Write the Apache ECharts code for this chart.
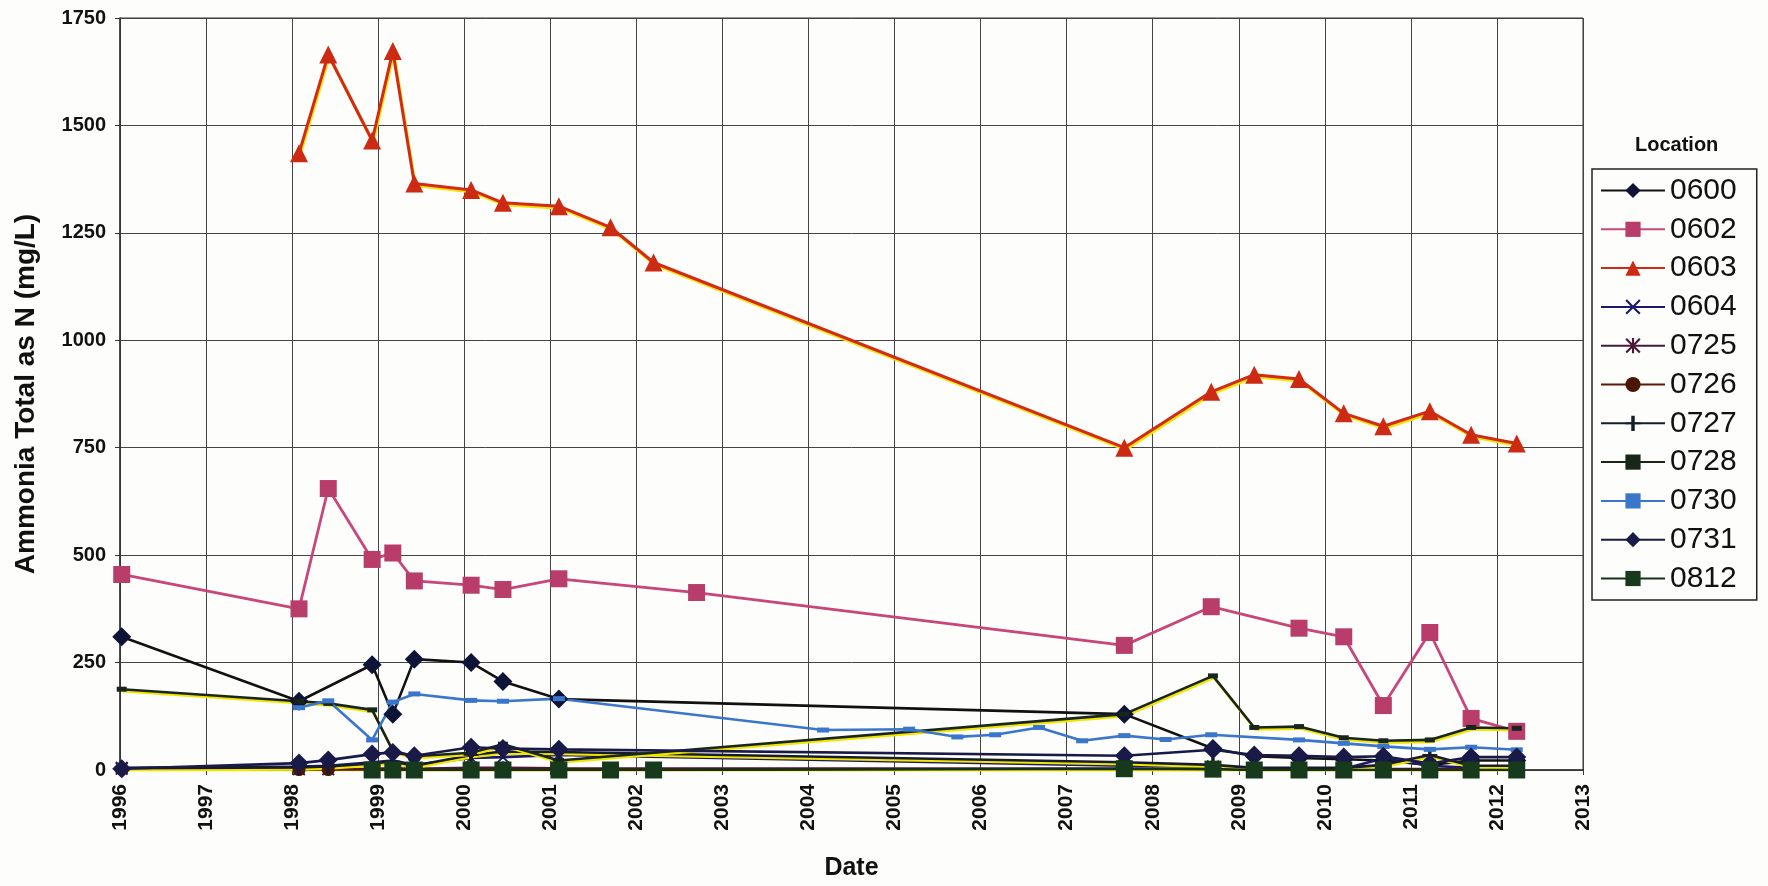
<!DOCTYPE html>
<html>
<head>
<meta charset="utf-8">
<script src="https://cdn.jsdelivr.net/npm/echarts@6/dist/echarts.min.js"></script>
<style>
html,body{margin:0;padding:0;background:#fdfdfb;}
#chart{width:1768px;height:886px;}
</style>
</head>
<body>
<div id="chart"></div>
<script>
// ---- data (dates as decimal years) ----
const yearTicks = [1996,1997,1998,1999,2000,2001,2002,2003,2004,2005,2006,2007,2008,2009,2010,2011,2012,2013];
const locations = ['0600','0602','0603','0604','0725','0726','0727','0728','0730','0731','0812'];

const tCommon = [1996.02,1998.08,1998.42,1998.93,1999.17,1999.42,2000.08,2000.45,2001.10,2007.67,2008.70,2009.18,2009.70,2010.22,2010.68,2011.22,2011.70,2012.23];

const t0600 = [1996.02,1998.08,1998.93,1999.17,1999.42,2000.08,2000.45,2001.10,2007.67,2008.70,2009.18,2009.70,2010.22,2010.68,2011.22,2011.70,2012.23];
const v0600 = [310,160,245,130,258,250,206,165,130,50,32,28,25,22,12,22,22];

const t0602 = [1996.02,1998.08,1998.42,1998.93,1999.17,1999.42,2000.08,2000.45,2001.10,2002.70,2007.67,2008.68,2009.70,2010.22,2010.68,2011.22,2011.70,2012.23];
const v0602 = [455,375,655,490,505,440,430,420,445,413,290,380,330,310,150,320,120,90];

const t0603 = [1998.08,1998.42,1998.93,1999.17,1999.42,2000.08,2000.45,2001.10,2001.70,2002.20,2007.67,2008.68,2009.18,2009.70,2010.22,2010.68,2011.22,2011.70,2012.23];
const v0603 = [1435,1665,1465,1673,1365,1350,1320,1312,1263,1181,750,880,920,910,830,800,835,780,760];

const v0604 = [5,8,10,18,22,12,28,30,35,10,8,3,3,3,27,10,5,5];
const v0725 = [3,2,2,3,4,3,5,5,4,3,2,2,2,2,2,2,2,2];
const v0726 = [2,1,1,1,1,1,1,1,1,2,1,1,1,1,1,1,1,1];
const v0727 = [4,6,8,15,20,10,35,43,42,18,12,5,5,5,12,35,10,10];

const v0728 = [188,160,155,140,45,32,40,60,22,130,219,99,101,75,68,70,99,97];

const t0730 = [1998.08,1998.42,1998.93,1999.17,1999.42,2000.08,2000.45,2001.10,2004.17,2005.17,2005.73,2006.17,2006.68,2007.18,2007.67,2008.15,2008.68,2009.70,2010.22,2010.68,2011.22,2011.70,2012.23];
const v0730 = [145,161,70,158,177,162,160,166,93,95,77,82,99,68,80,71,82,70,62,55,48,53,47];

const v0731 = [3,16,23,37,41,33,53,50,48,33,47,35,33,30,32,15,30,30];

const t0812 = [1998.93,1999.17,1999.42,2000.08,2000.45,2001.10,2001.70,2002.20,2007.67,2008.70,2009.18,2009.70,2010.22,2010.68,2011.22,2011.70,2012.23];
const v0812 = [0,0,0,0,0,0,0,0,3,2,0,0,0,0,0,0,0];

// ---- helpers ----
function pairs(t, v){ return t.map((x,i)=>[x, v[i]]); }
const FONT = '"Liberation Sans", Arial, sans-serif';
const XSYM = 'path://M1,0 L5,4 L9,0 L10,1 L6,5 L10,9 L9,10 L5,6 L1,10 L0,9 L4,5 L0,1 Z';
const STARSYM = 'path://M1,0 L5,4 L9,0 L10,1 L6,5 L10,9 L9,10 L5,6 L1,10 L0,9 L4,5 L0,1 Z M4.3,0 L5.7,0 L5.7,10 L4.3,10 Z';
const PLUSSYM = 'path://M4.2,0 L5.8,0 L5.8,10 L4.2,10 Z M1.5,4.4 L8.5,4.4 L8.5,5.6 L1.5,5.6 Z';
const DASHSYM = 'path://M0,0 L10,0 L10,5 L0,5 Z';
const yellowShadow = {shadowColor:'#f2e600', shadowOffsetY:2, shadowOffsetX:1, shadowBlur:0};

function mk(name, data, lineColor, symbol, symbolSize, markColor, shadow, width){
  return {
    name: name, type:'line', data: data,
    symbol: symbol, symbolSize: symbolSize, showSymbol:true,
    lineStyle: Object.assign({color: lineColor, width: width || 2.6}, shadow ? yellowShadow : {}),
    itemStyle: {color: markColor, borderColor: markColor, borderWidth: 0},
    emphasis: {disabled:true},
    animation:false
  };
}

const series = [
  mk('0600', pairs(t0600, v0600), '#111111', 'diamond', 19, '#0e1438', false),
  mk('0602', pairs(t0602, v0602), '#c8467a', 'rect', 17, '#b83d6b', false, 2.8),
  mk('0603', pairs(t0603, v0603), '#d22a14', 'triangle', 18, '#cc2a12', true, 3),
  mk('0604', pairs(tCommon, v0604), '#1b1a6a', XSYM, 13, '#1b1a6a', false),
  mk('0725', pairs(tCommon, v0725), '#4a1838', STARSYM, 13, '#4a1838', false),
  mk('0726', pairs(tCommon, v0726), '#5a1a08', 'circle', 13, '#4a1606', true),
  mk('0727', pairs(tCommon, v0727), '#151c2a', PLUSSYM, 15, '#151c2a', true),
  mk('0728', pairs(tCommon, v0728), '#18261a', DASHSYM, [10,5], '#18261a', true),
  mk('0730', pairs(t0730, v0730), '#3a76cc', DASHSYM, [12,5], '#3a76cc', false),
  mk('0731', pairs(tCommon, v0731), '#1a1a48', 'diamond', 19, '#1a1a48', false),
  mk('0812', pairs(t0812, v0812), '#16301a', 'rect', 17, '#173a1c', true)
];

const chart = echarts.init(document.getElementById('chart'), null, {renderer:'canvas'});
chart.setOption({
  backgroundColor:'#fdfdfb',
  animation:false,
  title: {
    text:'Location', left:1630, top:130,
    textStyle:{fontFamily:FONT, fontSize:20, fontWeight:'bold', color:'#111'}
  },
  legend: {
    data: locations,
    orient:'vertical', left:1592, top:169,
    padding:[6,20,6,8],
    borderColor:'#222', borderWidth:1.5,
    backgroundColor:'#fdfdfb',
    itemWidth:64, itemHeight:19, itemGap:7.8,
    textStyle:{fontFamily:FONT, fontSize:30, color:'#111', lineHeight:31},
    selectedMode:false
  },
  grid: {left:120, right:185, top:18, bottom:116, show:true, borderColor:'#333', borderWidth:1},
  xAxis: {
    type:'value', min:1996, max:2013, interval:1,
    name:'Date', nameLocation:'middle', nameGap:86,
    nameTextStyle:{fontFamily:FONT, fontSize:25, fontWeight:'bold', color:'#111'},
    axisLine:{show:true, lineStyle:{color:'#333', width:1.5}},
    axisTick:{show:true, length:5, lineStyle:{color:'#333'}},
    axisLabel:{rotate:90, margin:14, fontFamily:FONT, fontSize:21, fontWeight:'bold', color:'#111',
      formatter: v => yearTicks.indexOf(Math.round(v)) >= 0 ? String(Math.round(v)) : ''},
    splitLine:{show:true, lineStyle:{color:'#444', width:1}}
  },
  yAxis: {
    type:'value', min:0, max:1750, interval:250,
    name:'Ammonia Total as N (mg/L)', nameLocation:'middle', nameGap:80,
    nameTextStyle:{fontFamily:FONT, fontSize:28, fontWeight:'bold', color:'#111'},
    axisLine:{show:true, lineStyle:{color:'#333', width:1.5}},
    axisTick:{show:true, length:5, lineStyle:{color:'#333'}},
    axisLabel:{margin:14, fontFamily:FONT, fontSize:20, fontWeight:'bold', color:'#111',
      formatter: v => String(v)},
    splitLine:{show:true, lineStyle:{color:'#444', width:1}}
  },
  series: series
});
</script>
</body>
</html>
